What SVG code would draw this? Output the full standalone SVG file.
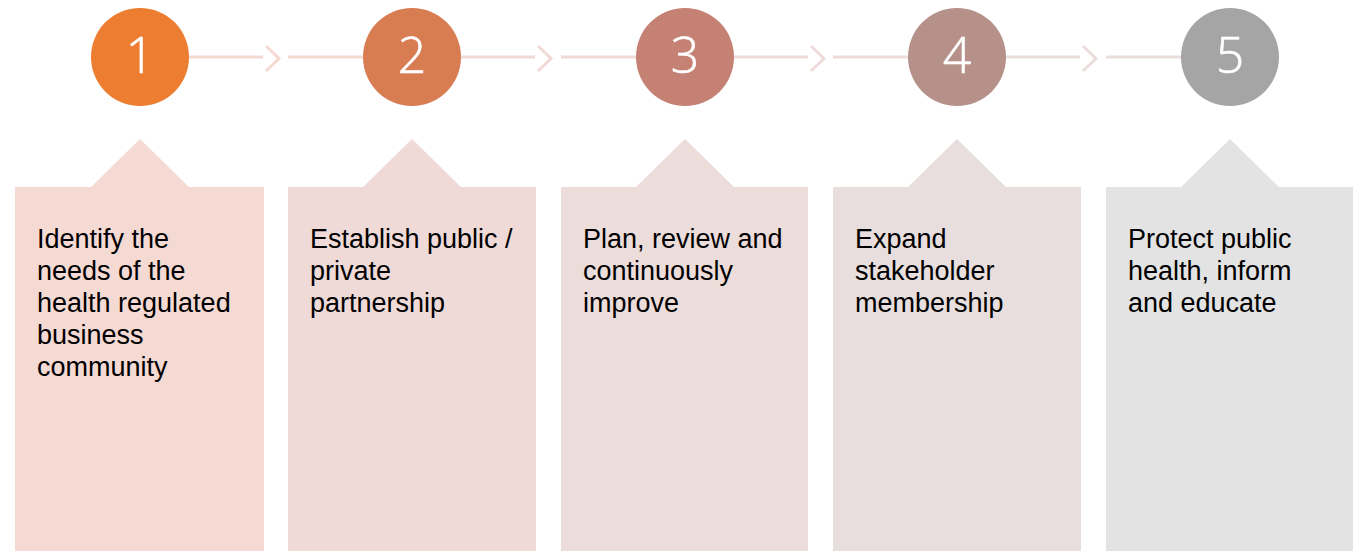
<svg xmlns="http://www.w3.org/2000/svg" width="1364" height="551" viewBox="0 0 1364 551">
<style>
.num{font-family:"Open Sans","Liberation Sans",sans-serif;font-weight:300;font-size:50px;fill:#fff;text-anchor:middle;stroke:#fff;stroke-width:0.6}
.lbl{font-family:"Liberation Sans",Arial,sans-serif;font-size:27px;fill:#000}
.ln{stroke-width:3;fill:none}
</style>
<rect width="1364" height="551" fill="#fff"/>
<g id="connectors">
<g stroke="#F6D9D2" class="ln"><path d="M189 57H263"/><path d="M266 46L279 58.5L266 71"/><path d="M288 57H363"/></g>
<g stroke="#F1DAD6" class="ln"><path d="M461 57H535"/><path d="M538 46L551 58.5L538 71"/><path d="M561 57H636"/></g>
<g stroke="#EDDCD9" class="ln"><path d="M734 57H808"/><path d="M811 46L824 58.5L811 71"/><path d="M833 57H908"/></g>
<g stroke="#E9DEDC" class="ln"><path d="M1006 57H1080"/><path d="M1083 46L1096 58.5L1083 71"/><path d="M1106 57H1181"/></g>
</g>
<g id="step1">
<circle cx="140" cy="57" r="49" fill="#ED7D31"/>
<text class="num" x="140" y="73">1</text>
<path d="M15 187H91L140 139L189 187H264V551H15Z" fill="#F5D9D3"/>
<text class="lbl" x="37" y="248">Identify the</text>
<text class="lbl" x="37" y="280">needs of the</text>
<text class="lbl" x="37" y="312">health regulated</text>
<text class="lbl" x="37" y="344">business</text>
<text class="lbl" x="37" y="376">community</text>
</g>
<g id="step2">
<circle cx="412" cy="57" r="49" fill="#D87C52"/>
<text class="num" x="412" y="73">2</text>
<path d="M288 187H363L412 139L461 187H536V551H288Z" fill="#EFDAD8"/>
<text class="lbl" x="310" y="248">Establish public /</text>
<text class="lbl" x="310" y="280">private</text>
<text class="lbl" x="310" y="312">partnership</text>
</g>
<g id="step3">
<circle cx="685" cy="57" r="49" fill="#C58174"/>
<text class="num" x="685" y="73">3</text>
<path d="M561 187H636L685 139L734 187H808V551H561Z" fill="#ECDCDA"/>
<text class="lbl" x="583" y="248">Plan, review and</text>
<text class="lbl" x="583" y="280">continuously</text>
<text class="lbl" x="583" y="312">improve</text>
</g>
<g id="step4">
<circle cx="957" cy="57" r="49" fill="#B5918A"/>
<text class="num" x="957" y="73">4</text>
<path d="M833 187H908L957 139L1006 187H1081V551H833Z" fill="#E8DEDD"/>
<text class="lbl" x="855" y="248">Expand</text>
<text class="lbl" x="855" y="280">stakeholder</text>
<text class="lbl" x="855" y="312">membership</text>
</g>
<g id="step5">
<circle cx="1230" cy="57" r="49" fill="#A5A5A5"/>
<text class="num" x="1230" y="73">5</text>
<path d="M1106 187H1181L1230 139L1279 187H1353V551H1106Z" fill="#E3E3E3"/>
<text class="lbl" x="1128" y="248">Protect public</text>
<text class="lbl" x="1128" y="280">health, inform</text>
<text class="lbl" x="1128" y="312">and educate</text>
</g>
</svg>
